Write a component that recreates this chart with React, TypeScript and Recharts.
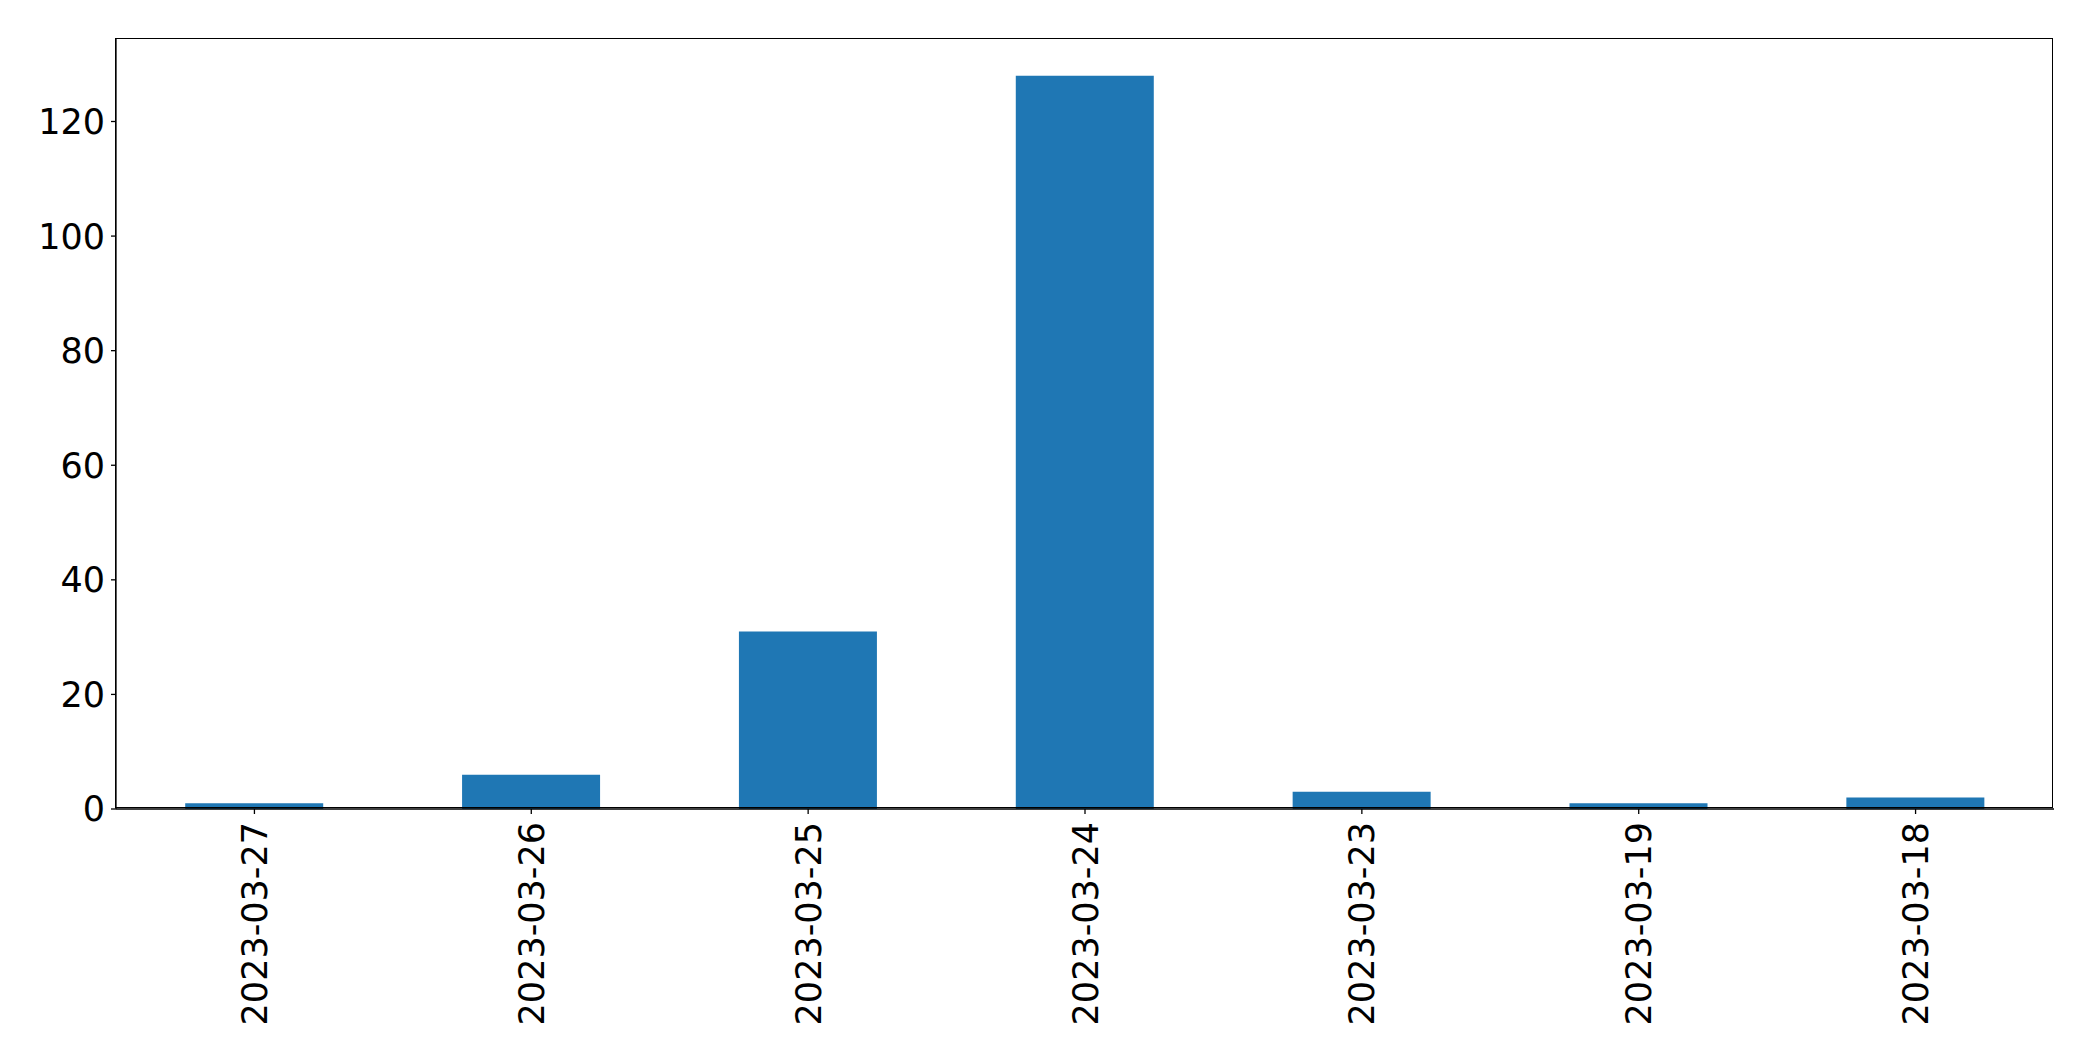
import React from 'react';
import { BarChart, Bar, XAxis, YAxis } from 'recharts';

const categories = ['2023-03-27', '2023-03-26', '2023-03-25', '2023-03-24', '2023-03-23', '2023-03-19', '2023-03-18'];
const counts = [1, 6, 31, 128, 3, 1, 2];
const yTicks = [0, 20, 40, 60, 80, 100, 120];

const data = categories.map((c, i) => ({ date: c, count: counts[i] }));

const FONT = 'DejaVu Sans';
const FS = 35;

const PLOT = { left: 116, top: 39, right: 39, bottom: 252 };

const XTick = (props: any) => {
  const { x, y, payload } = props;
  return (
    <g transform={`translate(${x},${y + 6})`}>
      <text
        x={0}
        y={0}
        transform="rotate(-90)"
        textAnchor="end"
        dy="0.36em"
        fontFamily={FONT}
        fontSize={FS}
        fill="#000"
      >
        {payload.value}
      </text>
    </g>
  );
};

export default function App() {
  return (
    <div style={{ position: 'absolute', left: 0, top: 0, width: 2093, height: 1061, background: '#fff' }}>
      <BarChart
        width={2093}
        height={1061}
        data={data}
        margin={{ top: PLOT.top, right: PLOT.right, bottom: 0, left: 0 }}
        barCategoryGap="25%"
      >
        <XAxis
          dataKey="date"
          height={PLOT.bottom}
          tick={<XTick />}
          tickSize={5}
          interval={0}
          axisLine={{ stroke: '#000', strokeWidth: 1.3 }}
          tickLine={{ stroke: '#000', strokeWidth: 1.3 }}
        />
        <YAxis
          width={PLOT.left}
          domain={[0, 134.4]}
          ticks={yTicks}
          tickSize={5}
          tickMargin={6}
          allowDataOverflow
          axisLine={{ stroke: '#000', strokeWidth: 1.3 }}
          tickLine={{ stroke: '#000', strokeWidth: 1.3 }}
          tick={{ fontFamily: FONT, fontSize: FS, fill: '#000' }}
        />
        <Bar dataKey="count" fill="#1f77b4" isAnimationActive={false} />
      </BarChart>
      <div
        style={{
          position: 'absolute',
          left: PLOT.left - 0.65,
          top: PLOT.top - 0.65,
          width: 2093 - PLOT.left - PLOT.right,
          height: 1061 - PLOT.top - PLOT.bottom,
          border: '1.3px solid #000',
          boxSizing: 'border-box',
          pointerEvents: 'none',
        }}
      />
    </div>
  );
}
